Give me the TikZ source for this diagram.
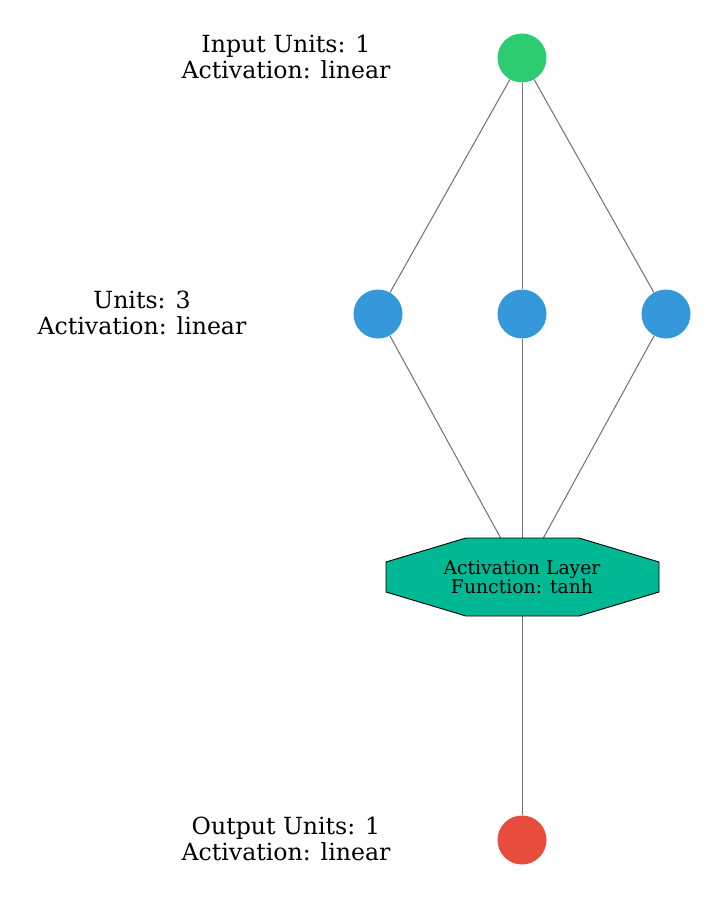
\documentclass[tikz,border=0pt]{standalone}
\usepackage{fontspec}
\setmainfont{DejaVu Serif}
\usetikzlibrary{backgrounds}
\definecolor{cin}{HTML}{2ECC71}
\definecolor{chid}{HTML}{3498DB}
\definecolor{cout}{HTML}{E74C3C}
\definecolor{cact}{HTML}{00B894}
\definecolor{cedge}{HTML}{707070}
\begin{document}
\begin{tikzpicture}[x=1pt,y=-1pt,
  unit/.style={circle,minimum size=49pt,inner sep=0pt,draw=none},
  lbl/.style={align=center,font=\fontsize{23.6}{26}\selectfont},
  edge/.style={draw=cedge,line width=1pt}]
\useasboundingbox (0,0) rectangle (717,899);
\node[unit,fill=cin] (in) at (522,58) {};
\node[unit,fill=chid] (h1) at (378,314) {};
\node[unit,fill=chid] (h2) at (522,314) {};
\node[unit,fill=chid] (h3) at (666,314) {};
\node[unit,fill=cout] (out) at (522,840) {};
\node[minimum width=273pt,minimum height=78pt,inner sep=0pt] (act) at (522,577) {};
\fill[cact,draw=black,line width=0.9pt]
  (466,538) -- (579,538) -- (659,562) -- (659,592) -- (579,616) -- (466,616) -- (386,592) -- (386,562) -- cycle;
\node[align=center,font=\fontsize{18.8}{19}\selectfont] (acttext) at (act.center) {Activation Layer\\Function: tanh};
\begin{scope}[on background layer]
\draw[edge] (in) -- (h1);
\draw[edge] (in) -- (h2);
\draw[edge] (in) -- (h3);
\draw[edge] (h1) -- (act.center);
\draw[edge] (h2) -- (act.center);
\draw[edge] (h3) -- (act.center);
\draw[edge] (act.center) -- (out);
\end{scope}
\node[lbl] (lin) at (286,57) {Input Units: 1\\Activation: linear};
\node[lbl] (lhid) at (142,313) {Units: 3\\Activation: linear};
\node[lbl] (lout) at (286,839) {Output Units: 1\\Activation: linear};
\end{tikzpicture}
\end{document}
